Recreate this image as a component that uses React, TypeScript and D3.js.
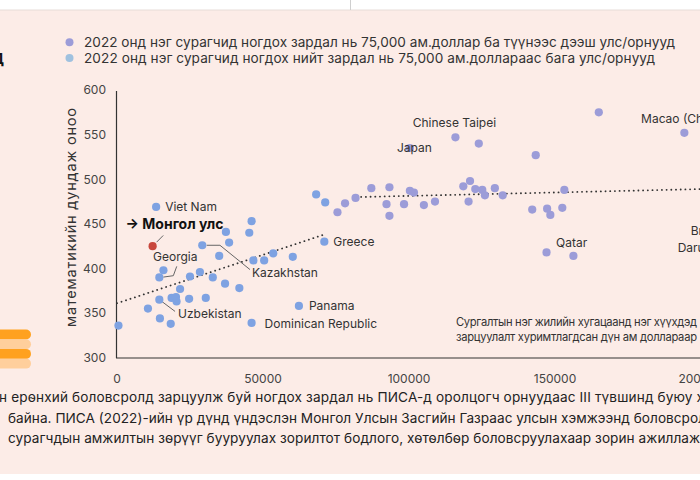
import React from 'react';
import * as d3 from 'd3';

const W = 700;
const H = 480;

// Spending per student (USD, cumulative) and PISA 2022 math score
const lowSpend = [500, 13400, 10600, 14500, 14700, 18400, 15900, 14500, 18700, 20200, 20400, 21600, 24700, 30400, 25000, 28400, 32800, 29200, 35000, 37000, 41900, 37300, 38400, 45300, 46100, 46700, 50400, 53500, 60200, 46100, 62300, 71000, 68200, 71300];
const lowScore = [336, 469, 355, 365, 344, 338, 398, 390, 367, 368, 363, 377, 366, 367, 391, 396, 390, 426, 414, 383, 378, 441, 429, 440, 453, 409, 409, 417, 413, 339, 358, 430, 483, 474];
const highSpend = [75500, 78100, 81700, 87100, 93300, 92300, 93300, 98300, 100300, 101700, 100300, 105100, 108900, 115900, 123900, 118600, 120900, 120400, 122700, 125100, 126000, 129400, 132100, 142200, 147300, 148400, 152500, 153200, 143400, 165000, 194300, 147100, 156300];
const highScore = [463, 473, 479, 490, 491, 472, 459, 472, 487, 485, 535, 471, 475, 547, 540, 492, 498, 475, 489, 488, 482, 490, 482, 466, 467, 460, 468, 488, 527, 575, 552, 418, 414];
const mnSpend = [12200];
const mnScore = [425];

const trendSpend1 = [0, 70500];
const trendScore1 = [361, 437.5];
const trendSpend2 = [82000, 200000];
const trendScore2 = [480, 489];

const xTicks = [0, 50000, 100000, 150000, 200000];
const yTicks = [300, 350, 400, 450, 500, 550, 600];

const legendLabels = [
  '2022 онд нэг сурагчид ногдох зардал нь 75,000 ам.доллар ба түүнээс дээш улс/орнууд',
  '2022 онд нэг сурагчид ногдох нийт зардал нь 75,000 ам.доллараас бага улс/орнууд',
];
const yTitle = 'математикийн дундаж оноо';
const noteLines = [
  'Сургалтын нэг жилийн хугацаанд нэг хүүхдэд',
  'зарцуулалт хуримтлагдсан дүн ам доллараар',
];
const paragraph = [
  'н ерөнхий боловсролд зарцуулж буй ногдох зардал нь ПИСА-д оролцогч орнуудаас III түвшинд буюу х',
  'байна. ПИСА (2022)-ийн үр дүнд үндэслэн Монгол Улсын Засгийн Газраас улсын хэмжээнд боловсрол',
  'сурагчдын амжилтын зөрүүг бууруулах зорилтот бодлого, хөтөлбөр боловсруулахаар зорин ажиллаж',
];

type Lbl = {
  text: string;
  group: 'low' | 'high' | 'mn';
  idx: number;
  dx: number;
  dy: number;
  bold?: boolean;
  leader?: [number, number][];
};

const labels: Lbl[] = [
  { text: 'Viet Nam', group: 'low', idx: 1, dx: 9, dy: 4.5 },
  { text: '→ Монгол улс', group: 'mn', idx: 0, dx: -27, dy: -17.5, bold: true, leader: [[4, -4], [10.6, -10.7]] },
  { text: 'Georgia', group: 'low', idx: 7, dx: -6.3, dy: -16.5, leader: [[4, -0.3], [14, -1.7], [17.4, -11]] },
  { text: 'Kazakhstan', group: 'low', idx: 17, dx: 49.7, dy: 31.8, leader: [[4.4, 0], [17.7, 0], [47.7, 24.3]] },
  { text: 'Uzbekistan', group: 'low', idx: 3, dx: 18.7, dy: 18.5, leader: [[2.4, 1.7], [15.7, 11.7]] },
  { text: 'Dominican Republic', group: 'low', idx: 29, dx: 13, dy: 4.8 },
  { text: 'Panama', group: 'low', idx: 30, dx: 10, dy: 4.2 },
  { text: 'Greece', group: 'low', idx: 31, dx: 9, dy: 4.3 },
  { text: 'Japan', group: 'high', idx: 10, dx: -13, dy: 3.5 },
  { text: 'Chinese Taipei', group: 'high', idx: 13, dx: -42.7, dy: -10.5 },
  { text: 'Macao (China)', group: 'high', idx: 30, dx: -43.3, dy: -9.8 },
  { text: 'Qatar', group: 'high', idx: 32, dx: -17.3, dy: -9 },
];

const bruneiLines = ['Brunei', 'Darussalam'];
const bruneiSpend = [196500, 192000];
const bruneiScore = [437, 419];

const FONT = 'Inter, "Noto Sans", sans-serif';
const BG = '#fcece7';
const BLUE = '#7ea2e2';
const PURPLE = '#9c9cd8';
const RED = '#c8473c';
const TEXT = '#333';

export default function App() {
  const x = d3.scaleLinear().domain([0, 200000]).range([117, 701]);
  const y = d3.scaleLinear().domain([300, 600]).range([357.7, 90]);

  const pt = (g: string, i: number): [number, number] => {
    if (g === 'low') return [x(lowSpend[i]), y(lowScore[i])];
    if (g === 'high') return [x(highSpend[i]), y(highScore[i])];
    return [x(mnSpend[i]), y(mnScore[i])];
  };

  const line = d3.line<[number, number]>().x((d) => d[0]).y((d) => d[1]);
  const t1 = trendSpend1.map((s, i) => [x(s), y(trendScore1[i])] as [number, number]);
  const t2 = trendSpend2.map((s, i) => [x(s), y(trendScore2[i])] as [number, number]);

  const paraStart = [-1, 8, 8];
  const paraEnd = [704, 706, 700];
  const legendEnd = [675, 655];

  return (
    <svg width={W} height={H} style={{ position: 'absolute', left: 0, top: 0, fontFamily: FONT }}>
      <rect x={0} y={0} width={W} height={H} fill="#ffffff" />
      <rect x={0} y={10} width={W} height={464} fill={BG} />
      <line x1={0} x2={W} y1={10} y2={10} stroke="#e6dcd8" />
      <line x1={350.5} x2={350.5} y1={0} y2={10} stroke="#cfcfcf" />

      {/* cut title glyph */}
      <text x={-9} y={64} fontSize={15} fontWeight={700} fill="#111">Д</text>

      {/* orange decoration */}
      {[0, 1, 2, 3].map((i) => (
        <rect key={i} x={-12} y={329.5 + i * 9.7} width={43} height={10} rx={5}
          fill={i % 2 === 0 ? '#ffa11f' : '#ffcf9c'} />
      ))}

      {/* legend */}
      {legendLabels.map((t, i) => (
        <g key={i}>
          <circle cx={69.5} cy={42.3 + i * 15.7} r={4} fill={i === 0 ? PURPLE : '#9fc1df'} />
          <text x={84} y={47 + i * 15.7} fontSize={13.6} fill={TEXT}
            textLength={legendEnd[i] - 84} lengthAdjust="spacing">{t}</text>
        </g>
      ))}

      {/* axes */}
      <line x1={116.5} x2={116.5} y1={91} y2={358} stroke="#333" strokeWidth={1.2} />
      <line x1={116} x2={W} y1={358} y2={358} stroke="#333" strokeWidth={1.2} />
      {yTicks.map((v) => (
        <text key={v} x={106} y={y(v) + 4.3} fontSize={12} textAnchor="end" fill="#444">{v}</text>
      ))}
      {xTicks.map((v) => (
        <text key={v} x={x(v)} y={383} fontSize={12} textAnchor="middle" fill="#444">{v}</text>
      ))}
      <text transform={`translate(75.5,217.5) rotate(-90)`} fontSize={14.5} textAnchor="middle" fill={TEXT}
        textLength={219} lengthAdjust="spacing">{yTitle}</text>

      {/* trend lines */}
      <path d={line(t1) || ''} fill="none" stroke="#333" strokeWidth={1.8} strokeDasharray="0.1 4.6" strokeLinecap="round" />
      <path d={line(t2) || ''} fill="none" stroke="#333" strokeWidth={1.8} strokeDasharray="0.1 4.6" strokeLinecap="round" />

      {/* leader lines */}
      {labels.filter((l) => l.leader).map((l, k) => {
        const [px, py] = pt(l.group, l.idx);
        return (
          <polyline key={k} points={l.leader!.map((p) => `${px + p[0]},${py + p[1]}`).join(' ')}
            fill="none" stroke="#666" strokeWidth={1} />
        );
      })}

      {/* points */}
      {lowSpend.map((s, i) => (
        <circle key={'l' + i} cx={x(s)} cy={y(lowScore[i])} r={4.1} fill={BLUE} />
      ))}
      {highSpend.map((s, i) => (
        <circle key={'h' + i} cx={x(s)} cy={y(highScore[i])} r={4.1} fill={PURPLE} />
      ))}
      {mnSpend.map((s, i) => (
        <circle key={'m' + i} cx={x(s)} cy={y(mnScore[i])} r={4.1} fill={RED} />
      ))}

      {/* labels */}
      {labels.map((l, k) => {
        const [px, py] = pt(l.group, l.idx);
        return (
          <text key={k} x={px + l.dx} y={py + l.dy} fontSize={l.bold ? 14 : 12}
            fontWeight={l.bold ? 700 : 400} fill={l.bold ? '#111' : TEXT}>{l.text}</text>
        );
      })}
      {bruneiLines.map((t, i) => (
        <text key={t} x={x(bruneiSpend[i])} y={y(bruneiScore[i])} fontSize={12} fill={TEXT}>{t}</text>
      ))}

      {/* note */}
      {noteLines.map((t, i) => (
        <text key={i} x={456} y={326 + i * 15} fontSize={11.2} fill={TEXT}
          textLength={241} lengthAdjust="spacing">{t}</text>
      ))}

      {/* paragraph */}
      {paragraph.map((t, i) => (
        <text key={i} x={paraStart[i]} y={402 + i * 20.7} fontSize={13.6} fill="#222"
          textLength={paraEnd[i] - paraStart[i]} lengthAdjust="spacing">{t}</text>
      ))}
    </svg>
  );
}
